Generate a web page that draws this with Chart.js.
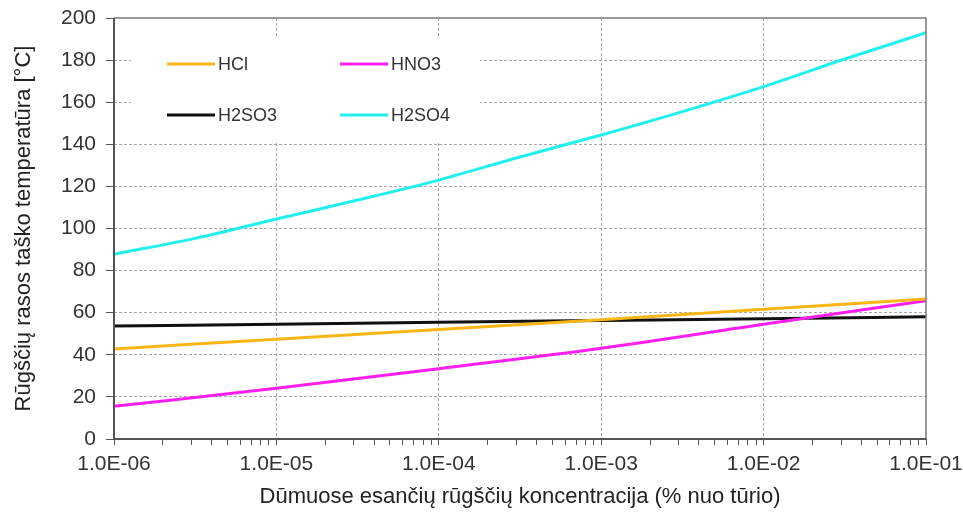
<!DOCTYPE html>
<html>
<head>
<meta charset="utf-8">
<script src="https://cdn.jsdelivr.net/npm/chart.js@4/dist/chart.umd.min.js"></script>
<style>
  body { margin: 0; background: #fff; }
  canvas { display: block; }
</style>
</head>
<body>
<canvas id="dewChart" width="963" height="513"></canvas>
<script>
// koncentracijos (% nuo tūrio)
const decadeX = [1e-6, 1e-5, 1e-4, 1e-3, 1e-2, 1e-1];
const halfDecadeX = [1e-6, 3.162e-6, 1e-5, 3.162e-5, 1e-4, 3.162e-4, 1e-3, 3.162e-3, 1e-2, 3.162e-2, 1e-1];

const seriesNames = ['HCl', 'HNO3', 'H2SO3', 'H2SO4'];
const seriesColors = ['#fbb516', '#ff1ef0', '#111111', '#22f0f0'];

// rasos taško temperatūra [°C]
const hclValues = [42.8, 47.4, 52.0, 56.6, 61.6, 66.5];
const hno3Values = [15.5, 24.1, 33.4, 43.1, 54.5, 65.7];
const h2so3Values = [53.7, 54.5, 55.5, 56.3, 57.1, 58.1];
const h2so4Values = [87.8, 95.3, 104.5, 113.5, 123.0, 134.0, 144.4, 155.5, 167.4, 180.5, 193.0];

const xTickLabels = ['1.0E-06', '1.0E-05', '1.0E-04', '1.0E-03', '1.0E-02', '1.0E-01'];
const yTicks = [0, 20, 40, 60, 80, 100, 120, 140, 160, 180, 200];

const FONT = "'Liberation Sans', Arial, sans-serif";

function toPoints(xs, ys) {
    return xs.map((x, i) => ({ x: x, y: ys[i] }));
}

function isDecade(v) {
    const e = Math.log10(v);
    return Math.abs(e - Math.round(e)) < 1e-6;
}

// legenda ir rėmelis brėžiami patys
const legendInside = {
    id: 'legendInside',
    beforeDatasetsDraw(chart) {
        const { ctx, chartArea } = chart;
        ctx.save();
        ctx.fillStyle = '#fff';
        ctx.fillRect(chartArea.left + 17, chartArea.top + 20, 349, 104);
        ctx.restore();
    },
    afterDatasetsDraw(chart) {
        const { ctx, chartArea } = chart;
        ctx.save();
        ctx.setLineDash([]);
        // ašys ir rėmelis
        ctx.strokeStyle = '#7a7a7a';
        ctx.lineWidth = 1.5;
        ctx.beginPath();
        ctx.moveTo(chartArea.left, chartArea.top);
        ctx.lineTo(chartArea.right, chartArea.top);
        ctx.lineTo(chartArea.right, chartArea.bottom);
        ctx.stroke();
        ctx.strokeStyle = '#555';
        ctx.lineWidth = 2;
        ctx.beginPath();
        ctx.moveTo(chartArea.left, chartArea.top);
        ctx.lineTo(chartArea.left, chartArea.bottom);
        ctx.lineTo(chartArea.right, chartArea.bottom);
        ctx.stroke();

        ctx.font = '18px ' + FONT;
        ctx.textBaseline = 'middle';
        ctx.fillStyle = '#333';
        chart.data.datasets.forEach((ds, i) => {
            const col = i % 2, row = Math.floor(i / 2);
            const x = chartArea.left + 53 + col * 173;
            const y = chartArea.top + 46 + row * 51;
            ctx.strokeStyle = ds.borderColor;
            ctx.lineWidth = 3;
            ctx.beginPath();
            ctx.moveTo(x, y);
            ctx.lineTo(x + 48, y);
            ctx.stroke();
            ctx.fillText(ds.label, x + 51, y + 1);
        });
        ctx.restore();
    }
};

const ctx = document.getElementById('dewChart').getContext('2d');
new Chart(ctx, {
    type: 'line',
    data: {
        datasets: [
            { label: seriesNames[0], data: toPoints(decadeX, hclValues), borderColor: seriesColors[0] },
            { label: seriesNames[1], data: toPoints(decadeX, hno3Values), borderColor: seriesColors[1] },
            { label: seriesNames[2], data: toPoints(decadeX, h2so3Values), borderColor: seriesColors[2] },
            { label: seriesNames[3], data: toPoints(halfDecadeX, h2so4Values), borderColor: seriesColors[3] }
        ]
    },
    options: {
        responsive: false,
        animation: false,
        layout: { padding: { top: 18, right: 37, left: 0, bottom: 0 } },
        elements: {
            line: { borderWidth: 3, cubicInterpolationMode: 'monotone', fill: false },
            point: { radius: 0, hoverRadius: 0 }
        },
        plugins: {
            legend: { display: false },
            tooltip: { enabled: false }
        },
        scales: {
            x: {
                type: 'logarithmic',
                min: decadeX[0],
                max: decadeX[decadeX.length - 1],
                afterBuildTicks: scale => {
                    const ticks = [];
                    decadeX.forEach((d, i) => {
                        const top = i === decadeX.length - 1 ? 1 : 9;
                        for (let m = 1; m <= top; m++) {
                            ticks.push({ value: Number((m * d).toPrecision(3)) });
                        }
                    });
                    scale.ticks = ticks;
                },
                afterFit: scale => {
                    scale.height = 74;
                    scale.paddingLeft = 0;
                    scale.paddingRight = 0;
                },
                border: { display: false, dash: [3, 2] },
                grid: {
                    color: c => (c.tick && isDecade(c.tick.value) && c.index !== 0 && c.tick.value < 0.09) ? '#a8a8a8' : 'rgba(0,0,0,0)',
                    tickColor: '#555',
                    tickLength: 6,
                    tickBorderDash: [],
                    lineWidth: 1
                },
                ticks: {
                    autoSkip: false,
                    maxRotation: 0,
                    padding: 7,
                    color: '#333',
                    font: { family: FONT, size: 21 },
                    callback: value => {
                        if (!isDecade(value)) return '';
                        return xTickLabels[decadeX.findIndex(d => Math.abs(Math.log10(d) - Math.log10(value)) < 1e-6)];
                    }
                },
                title: {
                    display: true,
                    text: 'Dūmuose esančių rūgščių koncentracija (% nuo tūrio)',
                    color: '#222',
                    font: { family: FONT, size: 22, lineHeight: 1.2 },
                    padding: { top: 0, bottom: 3 }
                }
            },
            y: {
                min: yTicks[0],
                max: yTicks[yTicks.length - 1],
                afterBuildTicks: scale => { scale.ticks = yTicks.map(v => ({ value: v })); },
                afterFit: scale => {
                    scale.width = 114;
                    scale.paddingTop = 0;
                    scale.paddingBottom = 0;
                },
                border: { display: false, dash: [3, 2] },
                grid: {
                    color: c => (c.tick && c.tick.value > 0 && c.tick.value < 200) ? '#a8a8a8' : 'rgba(0,0,0,0)',
                    tickColor: '#555',
                    tickLength: 8,
                    tickBorderDash: [],
                    lineWidth: 1
                },
                ticks: {
                    padding: 10,
                    color: '#333',
                    font: { family: FONT, size: 21 }
                },
                title: {
                    display: true,
                    text: 'Rūgščių rasos taško temperatūra [°C]',
                    color: '#222',
                    font: { family: FONT, size: 22, lineHeight: 1.2 },
                    padding: { top: 11, bottom: 0 }
                }
            }
        }
    },
    plugins: [legendInside]
});
</script>
</body>
</html>
